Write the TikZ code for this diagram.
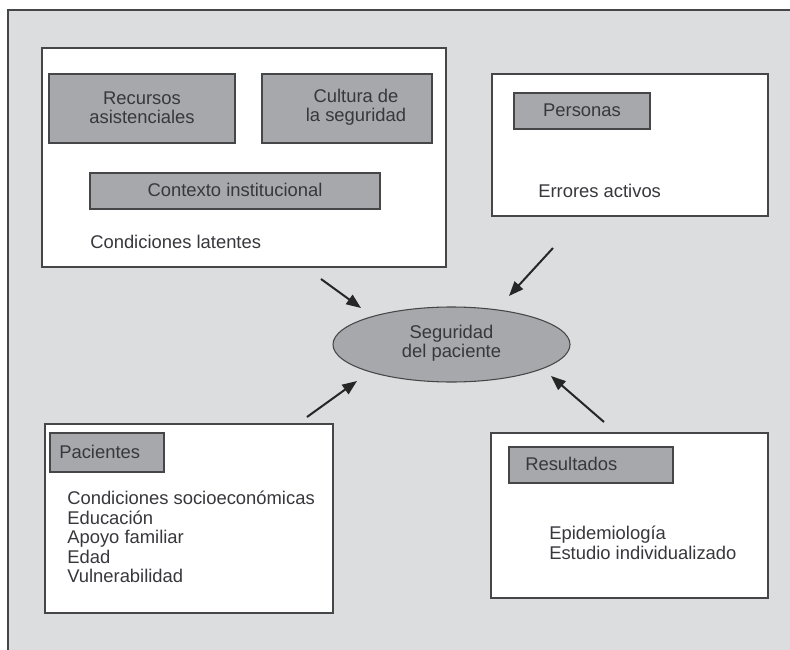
\documentclass[tikz,border=0pt]{standalone}
\usepackage{fontspec}
\setmainfont{Liberation Sans}
\usetikzlibrary{shapes.geometric,arrows.meta}
\definecolor{bgc}{RGB}{220,221,223}
\definecolor{boxc}{RGB}{167,168,171}
\definecolor{linec}{RGB}{70,70,72}
\definecolor{txtc}{RGB}{55,55,60}
\tikzset{
  frame/.style={draw=linec,line width=1.1pt,fill=white,rectangle,inner sep=0pt},
  greybox/.style={draw=linec,line width=1.1pt,fill=boxc,rectangle,inner sep=0pt},
  lbl/.style={text=txtc,font=\fontsize{13.8}{14.6}\selectfont,inner sep=0pt,align=center},
  lbll/.style={text=txtc,font=\fontsize{13.8}{14.6}\selectfont,inner sep=0pt,align=left},
  arr/.style={draw=black!85,line width=1.5pt,-{Triangle[length=11pt,width=8.5pt]}}
}
\begin{document}
\begin{tikzpicture}[x=0.75pt,y=-0.75pt]
\useasboundingbox (0,0) rectangle (790,650);
\fill[bgc] (8,10) rectangle (790,650);
\draw[linec,line width=0.9pt] (8,650) -- (8,10) -- (790,10);

% Condiciones latentes box
\node[frame,minimum width=303pt,minimum height=164.25pt] (latentes) at (244,157.5) {};
\node[greybox,minimum width=139.5pt,minimum height=51.75pt] (recursos) at (142,108.5) {};
\node[lbl] (recursosT) at (142,107.5) {Recursos\\asistenciales};
\node[greybox,minimum width=127.5pt,minimum height=51.75pt] (cultura) at (347,108.5) {};
\node[lbl] (culturaT) at (356,107.5) {Cultura de\\la seguridad};
\node[greybox,minimum width=217.5pt,minimum height=27pt] (contexto) at (235,191) {};
\node[lbl] (contextoT) at (235,190) {Contexto institucional};
\node[lbll,anchor=west] (latT) at (90,242) {Condiciones latentes};

% Personas box
\node[frame,minimum width=207pt,minimum height=106.5pt] (personasbox) at (630,145) {};
\node[greybox,minimum width=102pt,minimum height=27pt] (personas) at (582,111) {};
\node[lbl] (personasT) at (582,110) {Personas};
\node[lbll,anchor=west] (errT) at (538,191) {Errores activos};

% Central ellipse
\node[ellipse,draw=linec,line width=0.8pt,fill=boxc,minimum width=177.75pt,minimum height=56.25pt,inner sep=0pt] (seg) at (451.5,344.5) {};
\node[lbl] (segT) at (451.5,343.5) {Seguridad\\del paciente};

% Pacientes box
\node[frame,minimum width=216pt,minimum height=141.75pt] (pacbox) at (189,518.5) {};
\node[greybox,minimum width=85.5pt,minimum height=29.25pt] (pac) at (107,452.5) {};
\node[lbll,anchor=west] (pacT) at (59,451.5) {Pacientes};
\node[lbll,anchor=north west] (pacL) at (67,491) {Condiciones socioeconómicas\\Educación\\Apoyo familiar\\Edad\\Vulnerabilidad};

% Resultados box
\node[frame,minimum width=207.75pt,minimum height=123.75pt] (resbox) at (629.5,515.5) {};
\node[greybox,minimum width=123pt,minimum height=27pt] (res) at (591,465) {};
\node[lbll,anchor=west] (resT) at (525,464) {Resultados};
\node[lbll,anchor=north west] (resL) at (549,526) {Epidemiología\\Estudio individualizado};

% Arrows
\coordinate (a1s) at (321,279);
\coordinate (a1e) at (361,308);
\coordinate (a2s) at (553,248);
\coordinate (a2e) at (509,296);
\coordinate (a3s) at (307,417);
\coordinate (a3e) at (357,381);
\coordinate (a4s) at (604,422);
\coordinate (a4e) at (551,376);
\draw[arr] (a1s) -- (a1e);
\draw[arr] (a2s) -- (a2e);
\draw[arr] (a3s) -- (a3e);
\draw[arr] (a4s) -- (a4e);
\end{tikzpicture}
\end{document}
